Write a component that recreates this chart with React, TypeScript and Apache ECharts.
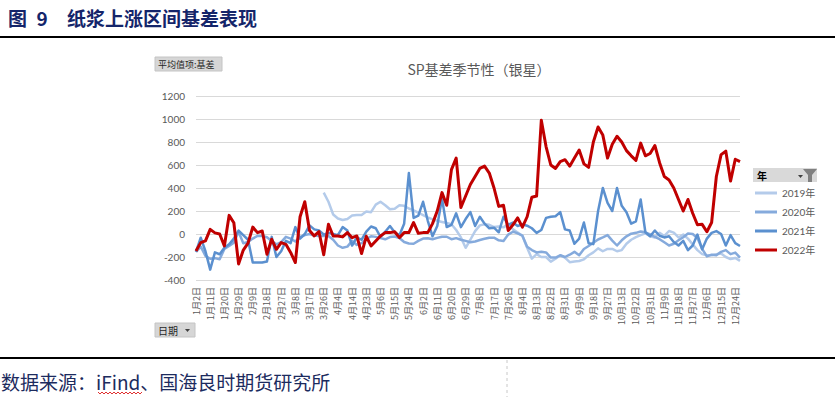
import React, { useEffect, useRef } from "react";
import * as echarts from "echarts";

const FONT = "'Noto Sans CJK SC', 'Noto Sans', sans-serif";
const NUM_FONT = "Lato, 'Noto Sans CJK SC', sans-serif";

const categories = [
  "1月2日", "1月5日", "1月8日", "1月11日", "1月14日", "1月17日", "1月20日", "1月23日", "1月26日",
  "1月29日", "2月3日", "2月6日", "2月9日", "2月12日", "2月15日", "2月18日", "2月21日", "2月24日",
  "2月27日", "3月2日", "3月5日", "3月8日", "3月11日", "3月14日", "3月17日", "3月20日", "3月23日",
  "3月26日", "3月29日", "4月1日", "4月4日", "4月8日", "4月11日", "4月14日", "4月17日", "4月20日",
  "4月23日", "4月26日", "4月29日", "5月6日", "5月9日", "5月12日", "5月15日", "5月18日", "5月21日",
  "5月24日", "5月27日", "5月30日", "6月2日", "6月5日", "6月8日", "6月11日", "6月14日", "6月17日",
  "6月20日", "6月23日", "6月26日", "6月29日", "7月2日", "7月5日", "7月8日", "7月11日", "7月14日",
  "7月17日", "7月20日", "7月23日", "7月26日", "7月29日", "8月1日", "8月4日", "8月7日", "8月10日",
  "8月13日", "8月16日", "8月19日", "8月22日", "8月25日", "8月28日", "8月31日", "9月3日", "9月6日",
  "9月9日", "9月12日", "9月15日", "9月18日", "9月21日", "9月24日", "9月27日", "9月30日", "10月10日",
  "10月13日", "10月16日", "10月19日", "10月22日", "10月25日", "10月28日", "10月31日", "11月3日", "11月6日",
  "11月9日", "11月12日", "11月15日", "11月18日", "11月21日", "11月24日", "11月27日", "11月30日", "12月3日",
  "12月6日", "12月9日", "12月12日", "12月15日", "12月18日", "12月21日", "12月24日", "12月27日",
];

const seriesNames = ["2019年", "2020年", "2021年", "2022年"];

const s2019: (number | null)[] = [
  null, null, null, null, null, null, null, null, null, null,
  null, null, null, null, null, null, null, null, null, null,
  null, null, null, null, null, null, null,
  360, 280, 170, 135, 122, 130, 160, 165, 165, 195,
  190, 255, 280, 250, 215, 220, 250, 245, 222, 205,
  185, 165, 145, 127, 115, 105, 95, 85, 35, -30,
  -120, -50, 25, 75, 85, 80, 60, 65, 58, 85,
  40, 12, -15, -120, -215, -175, -200, -200, -240, -215,
  -185, -205, -245, -240, -235, -220, -185, -160, -125, -150,
  -130, -130, -150, -140, -85, -50, -28, -10, 5, -20,
  -30, 10, -17, 26, 12, -30, -5, -40, -90, -140,
  -175, -185, -185, -175, -170, -200, -218, -208, -234,
];

const s2020: number[] = [
  -156, -110, -190, -215, -210, -220, -130, -104, -75, 20,
  -80, -70, -40, -17, -17, -28, -60, -90, -70, -25,
  -40, -65, -28, -10, 0, -14, -17, -17, -17, -50,
  -100, -120, -110, -60, -95, -80, -45, -20, -25, -36,
  -46, -27, -22, -35, -70, -82, -85, -60, -40, -37,
  -46, -34, -24, -24, -45, -36, -50, -60, -72, -65,
  -52, -42, -32, -32, -55, -60, -5, 20, 5, -15,
  -110, -140, -160, -155, -160, -205, -205, -185, -200, -180,
  -155, -185, -130, -104, -76, -48, -30, -10, -58, -100,
  -55, -20, 3, 10, 22, 15, -4, -25, -45, -72,
  -100, -85, -55, -28, 5, 0, -35, -130, -195, -180,
  -185, -155, -140, -175, -162, -205,
];

const s2021: number[] = [
  -156, -32, -150, -310, -160, -176, -120, -90, -40, 30,
  -10, -50, -248, -248, -248, -240, -25, -200, -150, -60,
  -80, 60, -40, 0, 75, 40, 30, -5, 10, 0,
  -10, 60, 30, -100, -30, -50, 20, 65, 50, -25,
  20, 70, 15, -10, 90, 530, 140, 160, 280, 115,
  -20, 70, 310, 60, 80, 180, 60, 130, 190, 70,
  150, 90, 50, 55, 15, 150, 80, 100, 70, 84,
  72, 50, 10, 35, 140, 150, 155, 190, 40, 30,
  -85, -40, 100, -80, -88, 200, 400, 270, 200, 400,
  245, 190, 90, 110, 300, 15, -20, 30, -15, -30,
  -20, -70, -100, -60, -140, -100, -5, -133, -40, 10,
  25, 0, -100, -10, -80, -104,
];

const s2022: number[] = [
  -147, -75, -60, 40, 10, 0, -104, 162, 98, -260,
  -140, -80, 60, 12, 26, -176, -46, -133, -75, -90,
  -160, -248, 150, 280, 30, -17, 20, -180, 84, -17,
  -17, -25, 12, -32, -17, -170, -20, -104, -60, -17,
  12, 12, 20, -32, 12, 12, 100, 6, 12, 12,
  90, 200, 360, 250, 560, 660, 230, 330, 430, 500,
  570, 590, 530, 400, 240, 250, 30, 80, 140, 60,
  150, 320, 330, 990, 760, 600, 570, 630, 646, 590,
  660, 730, 610, 580, 800, 930, 860, 660, 780, 850,
  800, 725, 680, 640, 790, 680, 700, 770, 620, 500,
  470, 400, 300, 200, 300, 180, 80, 84, 20, 100,
  500, 690, 720, 460, 650, 630,
];

const seriesData = [s2019, s2020, s2021, s2022];
const seriesColors = ["#b4cbea", "#85aadc", "#5b90cf", "#c00000"];
const seriesWidths = [2.5, 2.5, 2.5, 3];

export default function App() {
  const ref = useRef<HTMLDivElement>(null);

  useEffect(() => {
    if (!ref.current) return;
    const chart = echarts.init(ref.current, null, { renderer: "svg" });

    const txt = (text: string, x: number, y: number, extra: any = {}) => ({
      type: "text",
      x,
      y,
      silent: true,
      style: {
        text,
        fontFamily: FONT,
        fontSize: 12,
        fill: "#333",
        verticalAlign: "middle",
        textVerticalAlign: "middle",
        ...extra,
      },
    });

    const wave: number[][] = [];
    for (let i = 0; i <= 22; i++) {
      wave.push([98 + i * 2, i % 2 === 0 ? 392 : 394]);
    }

    const option: any = {
      animation: false,
      backgroundColor: "#ffffff",
      textStyle: { fontFamily: NUM_FONT },
      grid: { left: 196, right: 95, top: 96, bottom: 117, containLabel: false },
      xAxis: {
        type: "category",
        data: categories,
        boundaryGap: false,
        axisLine: { show: false },
        axisTick: { show: false },
        axisLabel: {
          interval: 2,
          rotate: 90,
          fontSize: 9,
          color: "#595959",
          margin: 7,
          fontFamily: FONT,
        },
        splitLine: { show: false },
      },
      yAxis: {
        type: "value",
        min: -400,
        max: 1200,
        interval: 200,
        axisLine: { show: false },
        axisTick: { show: false },
        axisLabel: {
          fontSize: 10,
          color: "#595959",
          margin: 11,
          fontFamily: NUM_FONT,
          formatter: (v: number) => String(v),
        },
        splitLine: { lineStyle: { color: "#d9d9d9", width: 1 } },
      },
      legend: {
        orient: "vertical",
        left: 755,
        top: 187,
        padding: 0,
        itemWidth: 22,
        itemHeight: 3,
        itemGap: 7,
        icon: "rect",
        data: seriesNames,
        textStyle: { fontSize: 10, color: "#595959", lineHeight: 12, fontFamily: NUM_FONT },
      },
      series: seriesNames.map((name, i) => ({
        name,
        type: "line",
        data: seriesData[i],
        symbol: "none",
        showSymbol: false,
        connectNulls: false,
        lineStyle: { width: seriesWidths[i], color: seriesColors[i], join: "round" },
        itemStyle: { color: seriesColors[i] },
        z: 2 + i,
      })),
      graphic: [
        txt("图\u20029", 8, 17, { fontSize: 19, fontWeight: "bold", fill: "#14256a" }),
        txt("纸浆上涨区间基差表现", 67, 17, { fontSize: 19, fontWeight: "bold", fill: "#14256a" }),
        {
          type: "line",
          silent: true,
          shape: { x1: 0, y1: 37, x2: 835, y2: 37 },
          style: { stroke: "#000", lineWidth: 2 },
        },
        txt("SP基差季节性（银星）", 479, 69, {
          fontSize: 14,
          fill: "#595959",
          align: "center",
          textAlign: "center",
        }),
        {
          type: "rect",
          silent: true,
          shape: { x: 155, y: 57, width: 67, height: 14 },
          style: { fill: "#d6d6d6", stroke: "#c4c4c4", lineWidth: 1 },
        },
        txt("平均值项:基差", 158, 64.5, { fontSize: 9, fill: "#262626" }),
        {
          type: "rect",
          silent: true,
          shape: { x: 753, y: 168, width: 64, height: 14 },
          style: { fill: "#d9d9d9" },
        },
        txt("年", 757, 175, { fontSize: 10, fill: "#000", fontWeight: "bold" }),
        {
          type: "polygon",
          silent: true,
          shape: { points: [[798, 175], [803, 175], [800.5, 178]] },
          style: { fill: "#404040" },
        },
        {
          type: "polygon",
          silent: true,
          shape: {
            points: [[803, 169], [817, 169], [812, 175], [812, 182], [808, 182], [808, 175]],
          },
          style: { fill: "#808080" },
        },
        {
          type: "rect",
          silent: true,
          shape: { x: 155, y: 323, width: 40, height: 14 },
          style: { fill: "#d6d6d6", stroke: "#c4c4c4", lineWidth: 1 },
        },
        txt("日期", 158, 330, { fontSize: 10, fill: "#262626" }),
        {
          type: "polygon",
          silent: true,
          shape: { points: [[185, 329], [190, 329], [187.5, 332]] },
          style: { fill: "#404040" },
        },
        {
          type: "line",
          silent: true,
          shape: { x1: 0, y1: 358, x2: 835, y2: 358 },
          style: { stroke: "#000", lineWidth: 2 },
        },
        {
          type: "line",
          silent: true,
          shape: { x1: 507, y1: 360, x2: 507, y2: 397 },
          style: { stroke: "#c8c8c8", lineWidth: 1, lineDash: [3, 3] },
        },
        txt("数据来源：iFind、国海良时期货研究所", 1, 381, { fontSize: 19, fill: "#1c2b5e" }),
        {
          type: "polyline",
          silent: true,
          shape: { points: wave },
          style: { stroke: "#e03030", lineWidth: 1, fill: null },
        },
      ],
    };

    chart.setOption(option);
    return () => chart.dispose();
  }, []);

  return (
    <div
      ref={ref}
      style={{
        position: "fixed",
        left: 0,
        top: 0,
        width: 835,
        height: 397,
        background: "#fff",
      }}
    />
  );
}
